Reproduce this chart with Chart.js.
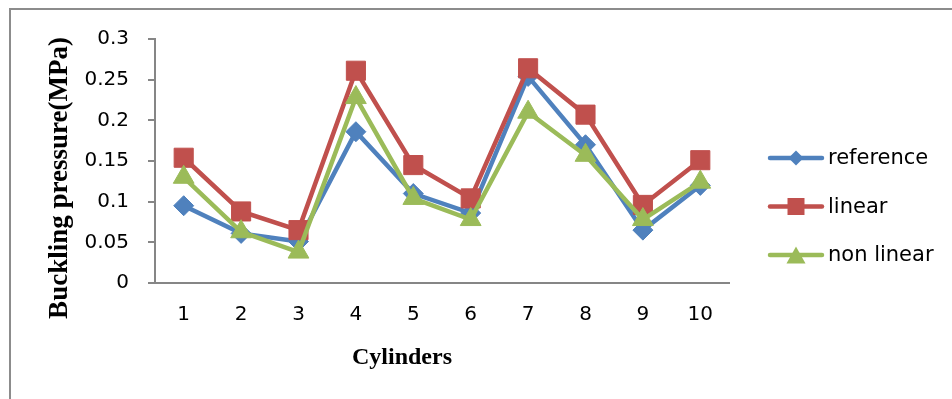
<!DOCTYPE html>
<html>
<head>
<meta charset="utf-8">
<title>Buckling pressure of cylinders</title>
<style>
  html, body { margin: 0; padding: 0; background: #ffffff; overflow: hidden; }
  #wrap { position: relative; width: 952px; height: 399px; overflow: hidden; }
  #frame { position: absolute; left: 9px; top: 8px; width: 1000px; height: 500px;
           border: 2px solid #8c8c8c; box-sizing: border-box; }
  #chart { position: absolute; left: 0; top: 0; }
</style>
<script src="https://cdn.jsdelivr.net/npm/chart.js@4/dist/chart.umd.min.js"></script>
</head>
<body>
<div id="wrap">
  <div id="frame"></div>
  <canvas id="chart" width="952" height="399"></canvas>
</div>
<script>
// Cylinder numbers on the horizontal axis
const cylinders = ['1', '2', '3', '4', '5', '6', '7', '8', '9', '10'];

// Buckling pressure (MPa) per cylinder
const referenceValues = [0.095, 0.061, 0.051, 0.186, 0.110, 0.086, 0.254, 0.170, 0.065, 0.120];
const linearValues    = [0.154, 0.088, 0.065, 0.261, 0.145, 0.104, 0.264, 0.207, 0.096, 0.151];
const nonLinearValues = [0.130, 0.063, 0.038, 0.228, 0.104, 0.078, 0.210, 0.157, 0.078, 0.124];

// Series names and value-axis ticks
const seriesNames = ['reference', 'linear', 'non linear'];
const yTicks = [0, 0.05, 0.1, 0.15, 0.2, 0.25, 0.3];

// Axis titles
const xTitle = 'Cylinders';
const yTitle = 'Buckling pressure(MPa)';

const BLUE = '#4f81bd';
const RED = '#c0504d';
const GREEN = '#9bbb59';
const AXIS = '#868686';

Chart.defaults.font.family = "'DejaVu Sans', 'Liberation Sans', sans-serif";
Chart.defaults.color = '#000000';

// Small marker shapes for the legend samples
function legendMarker(ctx, style, x, y, color) {
  ctx.save();
  ctx.fillStyle = color;
  ctx.beginPath();
  if (style === 'rectRot') {
    const r = 7.5;
    ctx.moveTo(x, y - r); ctx.lineTo(x + r, y); ctx.lineTo(x, y + r); ctx.lineTo(x - r, y);
  } else if (style === 'rect') {
    const s = 8.5;
    ctx.rect(x - s, y - s, 2 * s, 2 * s);
  } else {
    const h = 8.5, w = 9.5;
    ctx.moveTo(x, y - h); ctx.lineTo(x + w, y + h); ctx.lineTo(x - w, y + h);
  }
  ctx.closePath();
  ctx.fill();
  ctx.restore();
}

// Axis titles and the line-plus-marker legend
const decorations = {
  id: 'decorations',
  afterDraw(chart) {
    const { ctx, chartArea } = chart;
    ctx.save();
    ctx.fillStyle = '#000000';

    // horizontal axis title
    ctx.font = "bold 24px 'Liberation Serif', 'Times New Roman', serif";
    ctx.textAlign = 'center';
    ctx.textBaseline = 'alphabetic';
    ctx.fillText(xTitle, chartArea.left + 247, chartArea.bottom + 81);

    // vertical axis title
    ctx.save();
    ctx.font = "bold 27px 'Liberation Serif', 'Times New Roman', serif";
    ctx.translate(67, (chartArea.top + chartArea.bottom) / 2 + 17);
    ctx.rotate(-Math.PI / 2);
    ctx.textAlign = 'center';
    ctx.textBaseline = 'alphabetic';
    ctx.fillText(yTitle, 0, 0);
    ctx.restore();

    // legend
    const x0 = chartArea.right + 39;
    const lineLen = 56;
    const rowTop = 158;
    const rowGap = 48.5;
    ctx.font = "21px 'DejaVu Sans', 'Liberation Sans', sans-serif";
    ctx.textAlign = 'left';
    ctx.textBaseline = 'middle';
    chart.data.datasets.forEach((ds, i) => {
      const y = rowTop + i * rowGap;
      ctx.strokeStyle = ds.borderColor;
      ctx.lineWidth = 4.5;
      ctx.lineCap = 'round';
      ctx.beginPath();
      ctx.moveTo(x0 + 2, y);
      ctx.lineTo(x0 + lineLen - 2, y);
      ctx.stroke();
      legendMarker(ctx, ds.pointStyle, x0 + lineLen / 2, y, ds.borderColor);
      ctx.fillStyle = '#000000';
      ctx.fillText(ds.label, x0 + lineLen + 4, y + 1);
    });
    ctx.restore();
  }
};

function series(label, values, color, style, radius, order) {
  return {
    label: label,
    data: values,
    borderColor: color,
    backgroundColor: color,
    borderWidth: 4.5,
    tension: 0,
    pointStyle: style,
    pointRadius: radius,
    pointHoverRadius: radius,
    pointBorderWidth: 1,
    pointBorderColor: color,
    pointBackgroundColor: color,
    order: order
  };
}

new Chart(document.getElementById('chart'), {
  type: 'line',
  data: {
    labels: cylinders,
    datasets: [
      series(seriesNames[0], referenceValues, BLUE, 'rectRot', 10, 3),
      series(seriesNames[1], linearValues, RED, 'rect', 13.5, 2),
      series(seriesNames[2], nonLinearValues, GREEN, 'triangle', 12, 1)
    ]
  },
  options: {
    responsive: false,
    animation: false,
    devicePixelRatio: 1,
    layout: { padding: { left: 0, right: 223, top: 39, bottom: 0 } },
    plugins: {
      legend: { display: false },
      tooltip: { enabled: false },
      title: { display: false }
    },
    scales: {
      x: {
        type: 'category',
        offset: true,
        grid: { display: false, drawTicks: false },
        border: { display: true, color: AXIS, width: 2 },
        ticks: { padding: 20, font: { size: 20 }, color: '#000000', maxRotation: 0 },
        afterFit(scale) { scale.height = 116; }
      },
      y: {
        min: 0,
        max: 0.3,
        grid: { drawOnChartArea: false, drawTicks: true, tickLength: 7, color: AXIS, lineWidth: 2 },
        border: { display: true, color: AXIS, width: 2 },
        ticks: {
          padding: 19,
          font: { size: 20 },
          color: '#000000',
          callback: (v) => String(+Number(v).toFixed(2))
        },
        afterBuildTicks(scale) { scale.ticks = yTicks.map(v => ({ value: v })); },
        afterFit(scale) { scale.width = 155; }
      }
    }
  },
  plugins: [decorations]
});
</script>
</body>
</html>
